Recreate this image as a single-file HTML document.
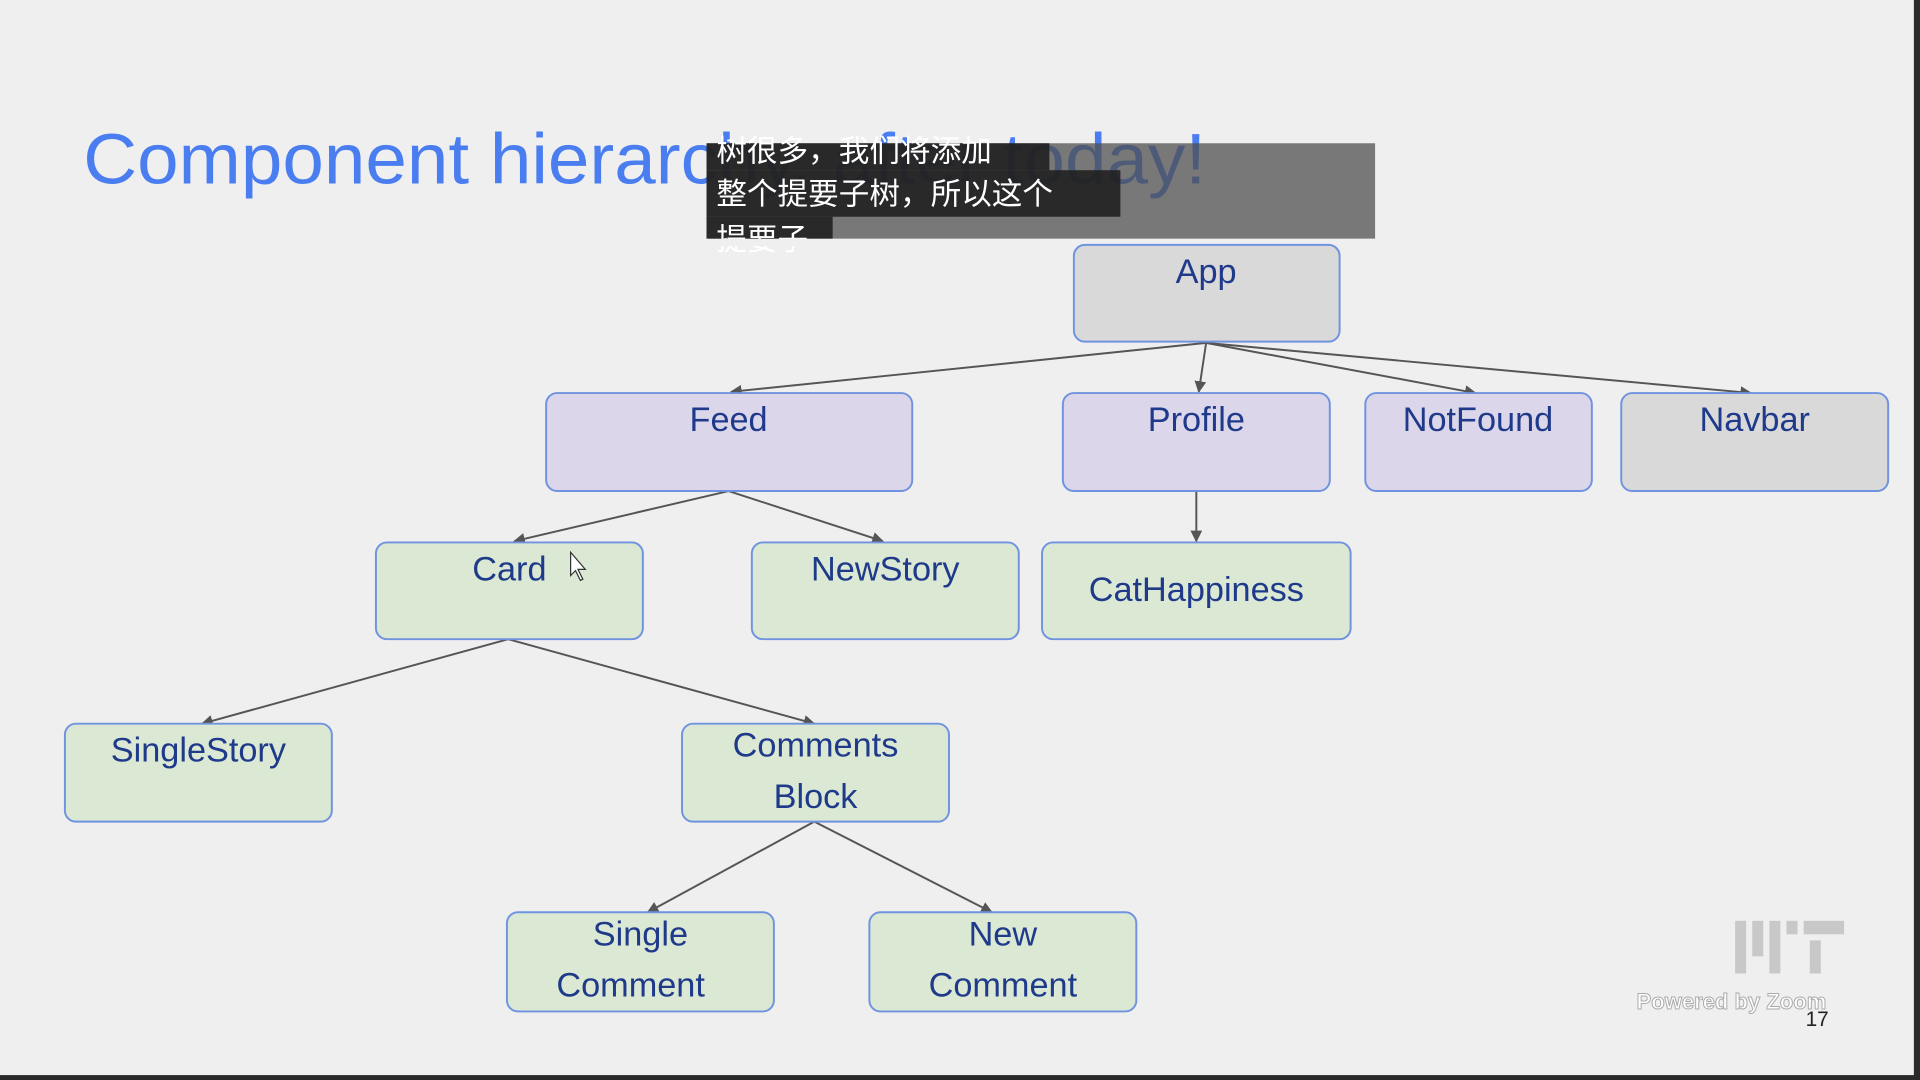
<!DOCTYPE html>
<html><head><meta charset="utf-8"><style>
html,body{margin:0;padding:0;background:#efefef;overflow:hidden}
svg{display:block}
</style></head><body>
<svg width="1920" height="1080" viewBox="0 0 1568 882" xmlns="http://www.w3.org/2000/svg">
<defs>
<marker id="a" viewBox="0 0 10 10" refX="9" refY="5" markerWidth="6" markerHeight="6" orient="auto"><path d="M0,0 L10,5 L0,10 z" fill="#555"/></marker>
</defs>
<rect x="0" y="0" width="1568" height="882" fill="#efefef"/>
<rect x="1563" y="0" width="5" height="882" fill="#2a2a2a"/>
<rect x="0" y="878" width="1568" height="4" fill="#2a2a2a"/>
<text x="68" y="150" font-family="Liberation Sans, sans-serif" font-size="58" fill="#4a7ef0" textLength="917" lengthAdjust="spacingAndGlyphs">Component hierarchy, after today!</text>
<rect x="577" y="117" width="546" height="78" fill="rgba(80,80,80,0.75)"/>
<rect x="577" y="117" width="280" height="22" fill="rgba(30,30,30,0.88)"/>
<rect x="577" y="139" width="338" height="38" fill="rgba(30,30,30,0.88)"/>
<rect x="577" y="177" width="103" height="18" fill="rgba(30,30,30,0.88)"/>
<g font-family="Liberation Sans, 'Noto Sans CJK SC', sans-serif" font-size="25" fill="#fff">
<text x="585" y="132">树很多，我们将添加</text>
<text x="585" y="167">整个提要子树，所以这个</text>
<text x="585" y="204">提要子</text>
</g>
<rect x="577" y="195" width="546" height="6" fill="#efefef"/>
<g stroke="#555" stroke-width="1.6" fill="none" marker-end="url(#a)">
<line x1="985" y1="280" x2="597" y2="320"/>
<line x1="985" y1="280" x2="979" y2="320"/>
<line x1="985" y1="280" x2="1205" y2="321"/>
<line x1="985" y1="280" x2="1430" y2="321"/>
<line x1="595" y1="401" x2="420" y2="442"/>
<line x1="595" y1="401" x2="721" y2="442"/>
<line x1="977" y1="401" x2="977" y2="442"/>
<line x1="415" y1="522" x2="165" y2="591"/>
<line x1="415" y1="522" x2="665" y2="591"/>
<line x1="665" y1="671" x2="529" y2="745"/>
<line x1="665" y1="671" x2="810" y2="745"/>
</g>
<g stroke="#6f93e0" stroke-width="1.6">
<rect x="877" y="200" width="217" height="79" rx="9" fill="#d9d9d9"/>
<rect x="446" y="321" width="299" height="80" rx="9" fill="#dcd6ea"/>
<rect x="868" y="321" width="218" height="80" rx="9" fill="#dcd6ea"/>
<rect x="1115" y="321" width="185" height="80" rx="9" fill="#dcd6ea"/>
<rect x="1324" y="321" width="218" height="80" rx="9" fill="#d9d9d9"/>
<rect x="307" y="443" width="218" height="79" rx="9" fill="#dbe8d3"/>
<rect x="614" y="443" width="218" height="79" rx="9" fill="#dbe8d3"/>
<rect x="851" y="443" width="252" height="79" rx="9" fill="#dbe8d3"/>
<rect x="53" y="591" width="218" height="80" rx="9" fill="#dbe8d3"/>
<rect x="557" y="591" width="218" height="80" rx="9" fill="#dbe8d3"/>
<rect x="414" y="745" width="218" height="81" rx="9" fill="#dbe8d3"/>
<rect x="710" y="745" width="218" height="81" rx="9" fill="#dbe8d3"/>
</g>
<g font-family="Liberation Sans, sans-serif" font-size="28" fill="#1f3a8a" text-anchor="middle">
<text x="985" y="231">App</text>
<text x="595" y="352">Feed</text>
<text x="977" y="352">Profile</text>
<text x="1207" y="352">NotFound</text>
<text x="1433" y="352">Navbar</text>
<text x="416" y="474">Card</text>
<text x="723" y="474">NewStory</text>
<text x="977" y="491">CatHappiness</text>
<text x="162" y="622">SingleStory</text>
<text x="666" y="618">Comments</text>
<text x="666" y="660">Block</text>
<text x="523" y="772">Single</text>
<text x="515" y="814">Comment</text>
<text x="819" y="772">New</text>
<text x="819" y="814">Comment</text>
</g>
<path d="M466,451 L466,470 L470,466 L474,474 L476,473 L472,465 L478,465 Z" fill="#fff" stroke="#333" stroke-width="1"/>
<g fill="#c8c8c8">
<rect x="1417" y="752" width="9" height="43"/>
<rect x="1431" y="752" width="9" height="29"/>
<rect x="1445" y="752" width="9" height="43"/>
<rect x="1459" y="752" width="9" height="11"/>
<rect x="1473" y="752" width="33" height="11"/>
<rect x="1478" y="768" width="9" height="27"/>
</g>
<text x="1414" y="824" font-family="Liberation Sans, sans-serif" font-size="18" font-weight="bold" fill="#fff" stroke="#aaa" stroke-width="0.8" text-anchor="middle">Powered by Zoom</text>
<text x="1484" y="838" font-family="Liberation Sans, sans-serif" font-size="17" fill="#222" text-anchor="middle">17</text>
</svg>
</body></html>
